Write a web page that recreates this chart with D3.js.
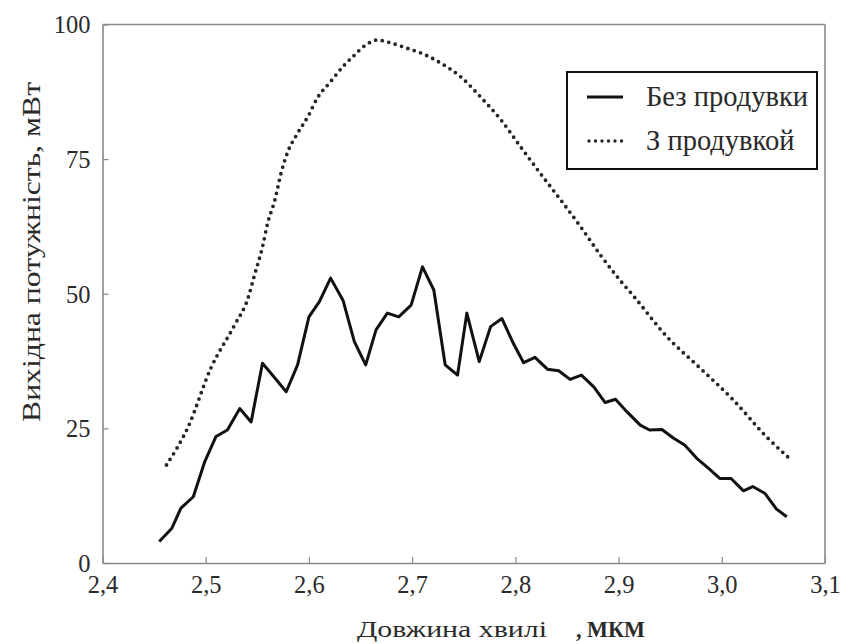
<!DOCTYPE html>
<html>
<head>
<meta charset="utf-8">
<script src="https://cdn.jsdelivr.net/npm/d3@7"></script>
</head>
<body style="margin:0;padding:0;background:#fff">
<svg id="chart" width="842" height="644" style="display:block"></svg>
<script>
// Wavelength (µm) and output power (mW), without purge
const wavelengthNoPurge = [2.455, 2.467, 2.476, 2.488, 2.499, 2.510, 2.521, 2.533, 2.544, 2.555,
  2.566, 2.578, 2.589, 2.600, 2.610, 2.621, 2.633, 2.644, 2.655, 2.665, 2.676, 2.687, 2.699,
  2.710, 2.721, 2.732, 2.744, 2.753, 2.765, 2.776, 2.787, 2.798, 2.808, 2.819, 2.831, 2.842,
  2.853, 2.864, 2.876, 2.887, 2.897, 2.908, 2.921, 2.930, 2.942, 2.953, 2.964, 2.976, 2.987,
  2.998, 3.009, 3.021, 3.030, 3.042, 3.053, 3.063];
const powerNoPurge = [4.0, 6.4, 10.2, 12.3, 18.8, 23.5, 24.7, 28.7, 26.2, 37.1,
  34.6, 31.8, 36.8, 45.7, 48.5, 52.9, 48.8, 41.1, 36.8, 43.3, 46.4, 45.7, 47.9,
  55.0, 50.7, 36.8, 34.9, 46.4, 37.4, 43.9, 45.4, 40.8, 37.2, 38.2, 36.0, 35.7,
  34.1, 34.9, 32.7, 29.8, 30.4, 28.1, 25.6, 24.7, 24.8, 23.2, 21.9, 19.4, 17.6,
  15.7, 15.7, 13.4, 14.2, 12.9, 10.0, 8.6];

// With purge
const wavelengthPurge = [2.462, 2.483, 2.505, 2.528, 2.541, 2.547, 2.555, 2.560, 2.567, 2.573,
  2.579, 2.589, 2.599, 2.608, 2.621, 2.633, 2.644, 2.655, 2.666, 2.679, 2.695, 2.710, 2.728,
  2.747, 2.766, 2.786, 2.805, 2.824, 2.844, 2.863, 2.882, 2.901, 2.914, 2.947, 2.979, 3.011,
  3.043, 3.064];
const powerPurge = [18.2, 25.3, 36.2, 44.2, 49.2, 53.3, 58.7, 63.1, 67.4, 72.4,
  76.1, 79.8, 82.9, 86.3, 89.4, 92.2, 94.3, 96.2, 97.1, 96.6, 95.6, 94.6, 92.8,
  90.3, 86.6, 82.3, 77.3, 72.4, 67.4, 62.5, 57.3, 52.6, 49.7, 42.0, 36.2, 30.3,
  23.5, 19.7];

const xTicks = [2.4, 2.5, 2.6, 2.7, 2.8, 2.9, 3.0, 3.1];
const xTickLabels = ["2,4", "2,5", "2,6", "2,7", "2,8", "2,9", "3,0", "3,1"];
const yTicks = [0, 25, 50, 75, 100];

const seriesNames = ["Без продувки", "З продувкой"];
const xTitle = "Довжина хвилі";
const xUnit = ", МКМ";
const yTitle = "Вихідна потужність, мВт";

const FONT = "Liberation Serif";
const svg = d3.select("#chart");
const x = d3.scaleLinear().domain([2.4, 3.1]).range([102.5, 825]);
const y = d3.scaleLinear().domain([0, 100]).range([563, 24.5]);

const axisColor = "#8a8a8a";
const labelColor = "#2a2a2a";

// frame: top and right edges
svg.append("line").attr("x1", x(2.4)).attr("x2", x(3.1)).attr("y1", y(100)).attr("y2", y(100))
  .attr("stroke", axisColor).attr("stroke-width", 1.6);
svg.append("line").attr("x1", x(3.1)).attr("x2", x(3.1)).attr("y1", y(100)).attr("y2", y(0))
  .attr("stroke", axisColor).attr("stroke-width", 1.6);

// bottom axis with inward ticks
const gx = svg.append("g").attr("transform", `translate(0,${y(0)})`)
  .call(d3.axisBottom(x).tickValues(xTicks).tickSizeInner(-6).tickSizeOuter(0)
    .tickFormat((d, i) => xTickLabels[i]).tickPadding(13));
// left axis with inward ticks
const gy = svg.append("g").attr("transform", `translate(${x(2.4)},0)`)
  .call(d3.axisLeft(y).tickValues(yTicks).tickSizeInner(-6).tickSizeOuter(0)
    .tickFormat(d3.format("d")).tickPadding(12));

[gx, gy].forEach(g => {
  g.attr("font-family", FONT).attr("font-size", 24.5);
  g.select(".domain").attr("stroke", axisColor).attr("stroke-width", 1.6);
  g.selectAll(".tick line").attr("stroke", axisColor).attr("stroke-width", 1.2);
  g.selectAll(".tick text").attr("fill", labelColor)
    .attr("font-family", FONT).attr("font-size", 24.5);
});
gx.selectAll(".tick text").attr("dy", "0.71em");
gy.selectAll(".tick text").attr("dy", "0.34em");

// axis titles
svg.append("text").attr("x", 357).attr("y", 637)
  .attr("fill", labelColor).attr("font-family", FONT).attr("font-size", 24)
  .attr("textLength", 190).attr("lengthAdjust", "spacingAndGlyphs")
  .text(xTitle);
svg.append("text").attr("x", 576).attr("y", 637)
  .attr("fill", labelColor).attr("font-family", FONT).attr("font-size", 24)
  .attr("font-weight", "bold")
  .attr("textLength", 69).attr("lengthAdjust", "spacingAndGlyphs")
  .text(xUnit);

svg.append("text").attr("transform", "translate(40,252) rotate(-90)")
  .attr("text-anchor", "middle").attr("fill", labelColor)
  .attr("font-family", FONT).attr("font-size", 25)
  .attr("textLength", 340).attr("lengthAdjust", "spacingAndGlyphs")
  .text(yTitle);

// series lines
const noPurge = d3.zip(wavelengthNoPurge, powerNoPurge);
const purge = d3.zip(wavelengthPurge, powerPurge);

svg.append("path").datum(purge)
  .attr("d", d3.line().x(d => x(d[0])).y(d => y(d[1])).curve(d3.curveMonotoneX))
  .attr("fill", "none").attr("stroke", "#262626").attr("stroke-width", 3.8)
  .attr("stroke-linecap", "round").attr("stroke-dasharray", "0 6.7");

svg.append("path").datum(noPurge)
  .attr("d", d3.line().x(d => x(d[0])).y(d => y(d[1])))
  .attr("fill", "none").attr("stroke", "#111").attr("stroke-width", 3)
  .attr("stroke-linejoin", "round");

// legend
const lg = svg.append("g");
lg.append("rect").attr("x", 567).attr("y", 72).attr("width", 250).attr("height", 97)
  .attr("fill", "#fff").attr("stroke", "#111").attr("stroke-width", 2);
lg.append("line").attr("x1", 587).attr("x2", 623).attr("y1", 97).attr("y2", 97)
  .attr("stroke", "#111").attr("stroke-width", 3);
lg.append("line").attr("x1", 589).attr("x2", 623).attr("y1", 141).attr("y2", 141)
  .attr("stroke", "#262626").attr("stroke-width", 3.4).attr("stroke-linecap", "round")
  .attr("stroke-dasharray", "0 6.5");
lg.append("text").attr("x", 646).attr("y", 106).attr("fill", labelColor)
  .attr("font-family", FONT).attr("font-size", 28.5).text(seriesNames[0]);
lg.append("text").attr("x", 646).attr("y", 150).attr("fill", labelColor)
  .attr("font-family", FONT).attr("font-size", 28.5).text(seriesNames[1]);
</script>
</body>
</html>
